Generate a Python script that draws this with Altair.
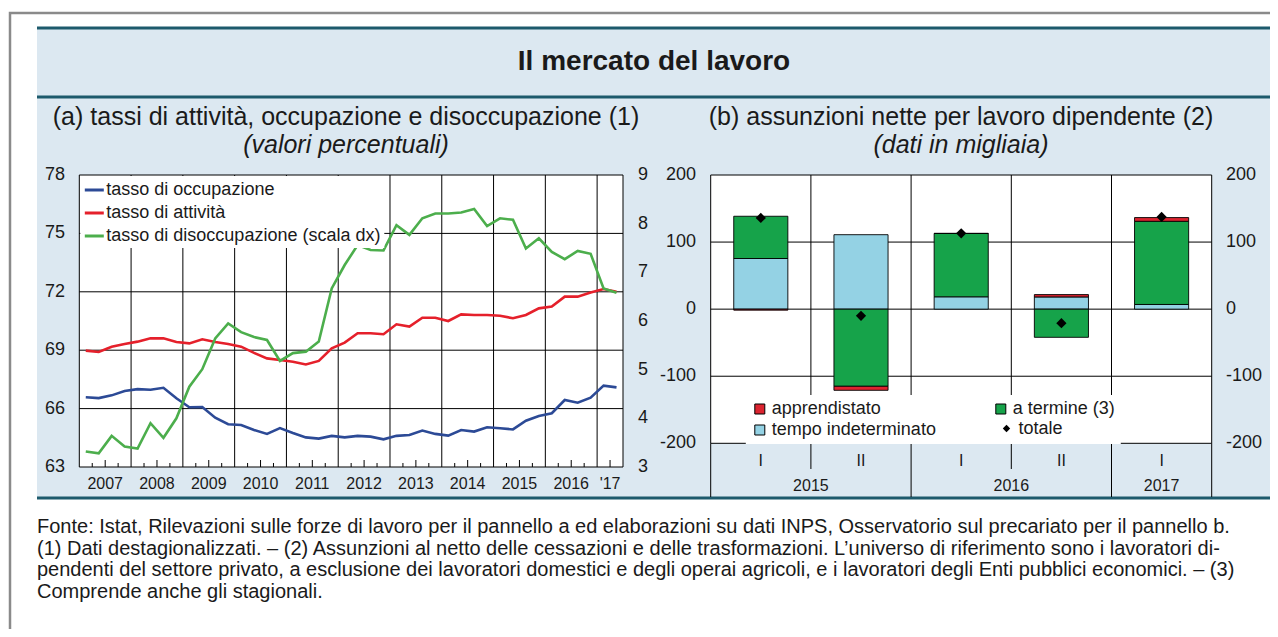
import altair as alt
import pandas as pd

# ---------------------------------------------------------------- data
# panel (a): quarterly data 2007Q1 - 2017Q2
anni = [2007, 2008, 2009, 2010, 2011, 2012, 2013, 2014, 2015, 2016, 2017]
occupazione = [66.58, 66.54, 66.68, 66.90,
               67.00, 66.97, 67.07, 66.53,
               66.07, 66.08, 65.53, 65.20,
               65.16, 64.90, 64.70, 65.00,
               64.75, 64.52, 64.46, 64.60,
               64.52, 64.60, 64.56, 64.42,
               64.60, 64.64, 64.87, 64.70,
               64.61, 64.90, 64.82, 65.04,
               64.99, 64.93, 65.38, 65.62,
               65.76, 66.44, 66.30, 66.56,
               67.18, 67.09]
attivita = [68.98, 68.91, 69.18, 69.32,
            69.44, 69.61, 69.61, 69.42,
            69.35, 69.56, 69.42, 69.32,
            69.18, 68.86, 68.58, 68.50,
            68.41, 68.27, 68.45, 69.10,
            69.39, 69.87, 69.87, 69.82,
            70.33, 70.21, 70.67, 70.67,
            70.50, 70.84, 70.81, 70.81,
            70.77, 70.64, 70.81, 71.15,
            71.24, 71.75, 71.75, 71.96,
            72.14, 72.00]
disoccupazione = [3.32, 3.28, 3.64, 3.42,
                  3.38, 3.90, 3.60, 4.00,
                  4.65, 5.01, 5.64, 5.95,
                  5.77, 5.67, 5.61, 5.18,
                  5.34, 5.37, 5.58, 6.67,
                  7.15, 7.56, 7.46, 7.45,
                  7.97, 7.77, 8.11, 8.21,
                  8.21, 8.23, 8.30, 7.95,
                  8.11, 8.08, 7.49, 7.70,
                  7.42, 7.27, 7.44, 7.38,
                  6.67, 6.58]
serie_a = ["tasso di occupazione", "tasso di attività",
           "tasso di disoccupazione (scala dx)"]
colori_a = ["#2c4a96", "#e5202b", "#4cae4c"]

x_lab_pos = [2007.5, 2008.5, 2009.5, 2010.5, 2011.5, 2012.5, 2013.5,
             2014.5, 2015.5, 2016.5, 2017.25]
x_lab_txt = ["2007", "2008", "2009", "2010", "2011", "2012", "2013",
             "2014", "2015", "2016", "'17"]
y_left_ticks = ["63", "66", "69", "72", "75", "78"]
y_right_ticks = ["3", "4", "5", "6", "7", "8", "9"]

# panel (b): net hirings (thousands), half-years
pb_anno = ["2015", "2015", "2016", "2016", "2017"]
pb_sem = ["I", "II", "I", "II", "I"]
tempo_indeterminato = [75.5, 111.0, 18.4, 18.2, 7.0]
a_termine = [63.0, -115.0, 94.5, -42.0, 124.0]
apprendistato = [-1.5, -6.0, 0.0, 3.5, 5.5]
totale = [136.0, -10.0, 113.0, -21.0, 137.5]
# legend order (filled column by column)
serie_b = ["apprendistato", "tempo indeterminato", "a termine (3)"]
colori_b = ["#dc2430", "#94d2e4", "#16a34a"]
y_b_ticks = ["-200", "-100", "0", "100", "200"]

note = [
    "Fonte: Istat, Rilevazioni sulle forze di lavoro per il pannello a ed elaborazioni su dati INPS, Osservatorio sul precariato per il pannello b.",
    "(1) Dati destagionalizzati. \u2013 (2) Assunzioni al netto delle cessazioni e delle trasformazioni. L\u2019universo di riferimento sono i lavoratori di-",
    "pendenti del settore privato, a esclusione dei lavoratori domestici e degli operai agricoli, e i lavoratori degli Enti pubblici economici. \u2013 (3)",
    "Comprende anche gli stagionali.",
]

# ---------------------------------------------------------------- tables
t_quarters = [a + (q - 0.5) / 4 for a in anni for q in (1, 2, 3, 4)][:len(occupazione)]
df_a = pd.DataFrame({
    "t": t_quarters * 2,
    "v": occupazione + attivita,
    "serie": [serie_a[0]] * len(occupazione) + [serie_a[1]] * len(attivita),
})
df_g = pd.DataFrame({"t": t_quarters, "v": disoccupazione,
                     "serie": [serie_a[2]] * len(disoccupazione)})

year_lines = anni[1:]
half_ticks = [a + 0.5 for a in anni[:-1]] + [anni[-1] + 0.25]
quarter_ticks = [a + f for a in anni[:-1] for f in (0.25, 0.75)]

cat_keys = [f"{a} {s}" for a, s in zip(pb_anno, pb_sem)]
rows = []
for i, k in enumerate(cat_keys):
    for o, (name, vals) in enumerate([("tempo indeterminato", tempo_indeterminato),
                                      ("a termine (3)", a_termine),
                                      ("apprendistato", apprendistato)]):
        rows.append({"cat": k, "serie": name, "v": vals[i], "ord": o})
df_b = pd.DataFrame(rows)
df_tot = pd.DataFrame({"cat": cat_keys, "v": totale, "lab": ["totale"] * len(totale)})

cat_pos = [i + 0.5 for i in range(len(cat_keys))]
year_bounds = [0] + [i for i in range(1, len(pb_anno)) if pb_anno[i] != pb_anno[i - 1]] + [len(pb_anno)]
half_bounds = [i for i in range(1, len(pb_anno)) if i not in year_bounds]
year_names = [pb_anno[b] for b in year_bounds[:-1]]
year_centres = [(year_bounds[j] + year_bounds[j + 1]) / 2 for j in range(len(year_names))]

# ---------------------------------------------------------------- layout
OFF = 8
def P(v):
    return v - OFF

FONT = "Liberation Sans"
INK = "#1a1a1a"
BG = "#dce8f1"
TEAL = "#1d5a6c"

PA_X0, PA_X1, PA_Y0, PA_Y1 = 79.3, 623.0, 175.0, 467.0
PB_X0, PB_X1, PB_Y0, PB_Y1 = 710.7, 1211.7, 175.0, 443.3
BAND_BOT, HALF_BOT = 497.0, 469.0

one = pd.DataFrame({"k": [0]})


def rect(x0, x1, y0, y1, fill, stroke=None, sw=1.0):
    props = {"fill": fill}
    if stroke is not None:
        props["stroke"] = stroke
        props["strokeWidth"] = sw
    return alt.Chart(one).mark_rect(**props).encode(
        x=alt.value(P(x0)), x2=alt.value(P(x1)),
        y=alt.value(P(y0)), y2=alt.value(P(y1)))


def text(s, x, y, size, align="center", weight="normal", style="normal"):
    return alt.Chart(pd.DataFrame({"t": [s]})).mark_text(
        align=align, baseline="middle", font=FONT, fontSize=size,
        fontWeight=weight, fontStyle=style, color=INK).encode(
        text="t:N", x=alt.value(P(x)), y=alt.value(P(y)))


# ---------------------------------------------------------------- scales
xa = alt.Scale(domain=[2007, 2017.5], range=[P(PA_X0), P(PA_X1)], nice=False, zero=False)
ya = alt.Scale(domain=[63, 78], range=[P(PA_Y1), P(PA_Y0)], nice=False, zero=False)
yr = alt.Scale(domain=[3, 9], range=[P(PA_Y1), P(PA_Y0)], nice=False, zero=False)
cs = alt.Scale(domain=serie_a, range=colori_a)
leg_a = alt.Legend(title=None, orient="none", legendX=P(80.3), legendY=P(176),
                   fillColor="white", padding=3, symbolType="stroke", symbolSize=361,
                   symbolStrokeWidth=3, labelFont=FONT, labelFontSize=18, labelColor=INK,
                   labelOffset=1, rowPadding=3, labelLimit=500)

xbq = alt.Scale(domain=[0, 5], range=[P(PB_X0), P(PB_X1)], nice=False, zero=False)
xbb = alt.Scale(domain=cat_keys, range=[P(PB_X0), P(PB_X1)], paddingInner=0.46, paddingOuter=0.23)
yb = alt.Scale(domain=[-200, 200], range=[P(PB_Y1), P(PB_Y0)], nice=False, zero=False)
fs = alt.Scale(domain=serie_b, range=colori_b)
leg_b = alt.Legend(title=None, orient="none", legendX=P(745.8), legendY=P(395), columns=2,
                   columnPadding=55, fillColor="white", padding=5, symbolType="square",
                   symbolSize=100, symbolStrokeColor="black", symbolStrokeWidth=1,
                   labelFont=FONT, labelFontSize=18, labelColor=INK, labelOffset=3,
                   rowPadding=3, labelLimit=500)
leg_t = alt.Legend(title=None, orient="none", legendX=P(997.5), legendY=P(419.5),
                   padding=0, symbolType="diamond", symbolSize=55, symbolFillColor="black",
                   symbolStrokeColor="black", labelFont=FONT, labelFontSize=18,
                   labelColor=INK, labelOffset=3, labelLimit=500)

# ---------------------------------------------------------------- panel (a)
pa_vgrid = alt.Chart(pd.DataFrame({"t": year_lines})).mark_rule(color="black", strokeWidth=1).encode(
    x=alt.X("t:Q", scale=xa, axis=None), y=alt.value(P(PA_Y0)), y2=alt.value(P(PA_Y1)))
pa_hgrid = alt.Chart(pd.DataFrame({"v": [float(v) for v in y_left_ticks[1:-1]]})).mark_rule(
    color="black", strokeWidth=1).encode(
    y=alt.Y("v:Q", scale=ya, axis=None), x=alt.value(P(PA_X0)), x2=alt.value(P(PA_X1)))
pa_tick_h = alt.Chart(pd.DataFrame({"t": half_ticks})).mark_rule(color="black", strokeWidth=1).encode(
    x=alt.X("t:Q", scale=xa, axis=None), y=alt.value(P(PA_Y1)), y2=alt.value(P(PA_Y1) - 7))
pa_tick_q = alt.Chart(pd.DataFrame({"t": quarter_ticks})).mark_rule(color="black", strokeWidth=1).encode(
    x=alt.X("t:Q", scale=xa, axis=None), y=alt.value(P(PA_Y1)), y2=alt.value(P(PA_Y1) - 4))
pa_xlab = alt.Chart(pd.DataFrame({"t": x_lab_pos, "s": x_lab_txt})).mark_text(
    font=FONT, fontSize=16, color=INK, baseline="middle").encode(
    x=alt.X("t:Q", scale=xa, axis=None), y=alt.value(P(484)), text="s:N")
pa_ylab = alt.Chart(pd.DataFrame({"v": [float(v) for v in y_left_ticks], "s": y_left_ticks})).mark_text(
    font=FONT, fontSize=18, color=INK, align="right", baseline="middle").encode(
    y=alt.Y("v:Q", scale=ya, axis=None), x=alt.value(P(65)), text="s:N")
pa_lines = alt.Chart(df_a).mark_line(strokeWidth=2.6).encode(
    x=alt.X("t:Q", scale=xa, axis=None), y=alt.Y("v:Q", scale=ya, axis=None),
    color=alt.Color("serie:N", scale=cs, legend=leg_a))
panel_a_left = alt.layer(pa_vgrid, pa_hgrid, pa_tick_h, pa_tick_q, pa_lines, pa_xlab, pa_ylab)

pa_green = alt.Chart(df_g).mark_line(strokeWidth=2.6).encode(
    x=alt.X("t:Q", scale=xa, axis=None), y=alt.Y("v:Q", scale=yr, axis=None),
    color=alt.Color("serie:N", scale=cs, legend=leg_a))
pa_rlab = alt.Chart(pd.DataFrame({"v": [float(v) for v in y_right_ticks], "s": y_right_ticks})).mark_text(
    font=FONT, fontSize=18, color=INK, align="center", baseline="middle").encode(
    y=alt.Y("v:Q", scale=yr, axis=None), x=alt.value(P(643)), text="s:N")
panel_a_right = alt.layer(pa_green, pa_rlab)

# ---------------------------------------------------------------- panel (b)
pb_hgrid = alt.Chart(pd.DataFrame({"v": [float(v) for v in y_b_ticks[1:-1]]})).mark_rule(
    color="black", strokeWidth=1).encode(
    y=alt.Y("v:Q", scale=yb, axis=None), x=alt.value(P(PB_X0)), x2=alt.value(P(PB_X1)))
pb_vgrid = alt.Chart(pd.DataFrame({"b": list(range(1, len(cat_keys)))})).mark_rule(
    color="black", strokeWidth=1).encode(
    x=alt.X("b:Q", scale=xbq, axis=None), y=alt.value(P(PB_Y0)), y2=alt.value(P(PB_Y1)))
pb_ysep = alt.Chart(pd.DataFrame({"b": year_bounds})).mark_rule(color="black", strokeWidth=1).encode(
    x=alt.X("b:Q", scale=xbq, axis=None), y=alt.value(P(PB_Y1)), y2=alt.value(P(BAND_BOT)))
pb_hsep = alt.Chart(pd.DataFrame({"b": half_bounds})).mark_rule(color="black", strokeWidth=1).encode(
    x=alt.X("b:Q", scale=xbq, axis=None), y=alt.value(P(PB_Y1)), y2=alt.value(P(HALF_BOT)))
pb_catlab = alt.Chart(pd.DataFrame({"p": cat_pos, "s": pb_sem})).mark_text(
    font=FONT, fontSize=16, color=INK, baseline="middle").encode(
    x=alt.X("p:Q", scale=xbq, axis=None), y=alt.value(P(461)), text="s:N")
pb_yearlab = alt.Chart(pd.DataFrame({"p": year_centres, "s": year_names})).mark_text(
    font=FONT, fontSize=16, color=INK, baseline="middle").encode(
    x=alt.X("p:Q", scale=xbq, axis=None), y=alt.value(P(486)), text="s:N")
yb_df = pd.DataFrame({"v": [float(v) for v in y_b_ticks], "s": y_b_ticks})
pb_llab = alt.Chart(yb_df).mark_text(font=FONT, fontSize=18, color=INK, align="right",
                                     baseline="middle").encode(
    y=alt.Y("v:Q", scale=yb, axis=None), x=alt.value(P(696)), text="s:N")
pb_rlab = alt.Chart(yb_df).mark_text(font=FONT, fontSize=18, color=INK, align="left",
                                     baseline="middle").encode(
    y=alt.Y("v:Q", scale=yb, axis=None), x=alt.value(P(1226)), text="s:N")
panel_b_grid = alt.layer(pb_hgrid, pb_vgrid, pb_ysep, pb_hsep, pb_catlab, pb_yearlab, pb_llab, pb_rlab)

pb_bars = alt.Chart(df_b).mark_bar(stroke="black", strokeWidth=0.9, opacity=1).encode(
    x=alt.X("cat:N", scale=xbb, axis=None, sort=cat_keys),
    y=alt.Y("v:Q", scale=yb, axis=None, stack="zero"),
    fill=alt.Fill("serie:N", scale=fs, legend=leg_b),
    order=alt.Order("ord:Q"),
    detail="serie:N")
pb_tot = alt.Chart(df_tot).mark_point(filled=True, color="black", size=105, opacity=1).encode(
    x=alt.X("cat:N", scale=xbb, axis=None, sort=cat_keys),
    y=alt.Y("v:Q", scale=yb, axis=None),
    shape=alt.Shape("lab:N", scale=alt.Scale(domain=["totale"], range=["diamond"]), legend=leg_t))
panel_b_bars = alt.layer(pb_bars, pb_tot)

# ---------------------------------------------------------------- decoration
decor = [
    rect(10, 1300, 13, 700, "white", stroke="#8a8a8a", sw=2.5),
    rect(37, 1272, 28, 498, BG),
    rect(37, 1272, 26.5, 29.5, TEAL),
    rect(37, 1272, 95.5, 98.5, TEAL),
    rect(37, 1272, 496.5, 499.5, TEAL),
    rect(PA_X0, PA_X1, PA_Y0, PA_Y1, "white"),
    rect(PB_X0, PB_X1, PB_Y0, PB_Y1, "white"),
]
frames = [
    rect(PA_X0, PA_X1, PA_Y0, PA_Y1, "transparent", stroke="black", sw=1),
    rect(PB_X0, PB_X1, PB_Y0, PB_Y1, "transparent", stroke="black", sw=1),
]
texts = [
    text("Il mercato del lavoro", 654, 62, 28, weight="bold"),
    text("(a) tassi di attività, occupazione e disoccupazione (1)", 346, 117, 25),
    text("(valori percentuali)", 346, 145, 25, style="italic"),
    text("(b) assunzioni nette per lavoro dipendente (2)", 961, 117, 25),
    text("(dati in migliaia)", 961, 145, 25, style="italic"),
]
for i, line in enumerate(note):
    texts.append(text(line, 37, [527, 549, 570, 592][i], 20, align="left"))

chart = alt.layer(
    *decor, panel_a_left, panel_a_right, panel_b_grid, panel_b_bars, *frames, *texts
).resolve_scale(
    x="independent", y="independent"
).properties(
    width=1262, height=621, autosize=alt.AutoSizeParams(type="none"), padding=0
).configure_view(stroke=None)

chart.save("out.html", embed_options={"renderer": "svg", "actions": False})
